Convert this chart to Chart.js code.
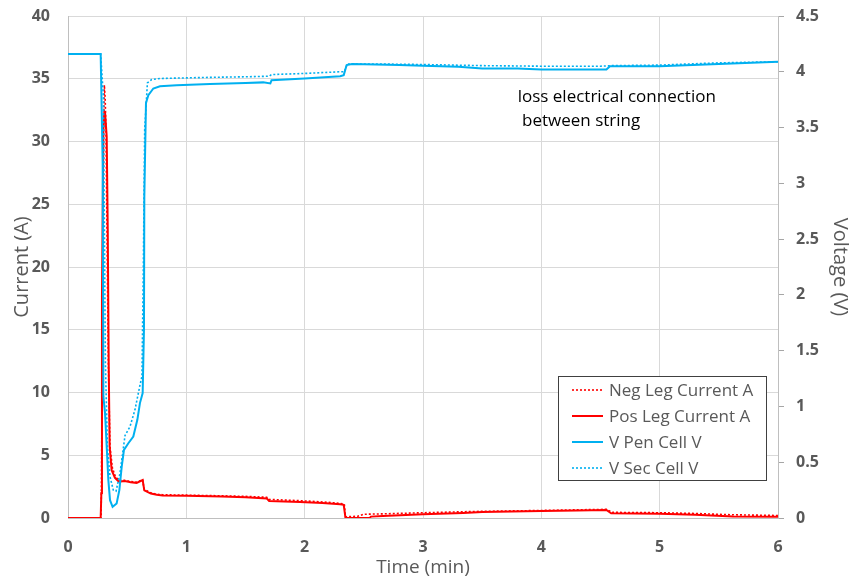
<!DOCTYPE html>
<html>
<head>
<meta charset="utf-8">
<title>Current and voltage vs time</title>
<script src="https://cdn.jsdelivr.net/npm/chart.js@4.4.1/dist/chart.umd.min.js"></script>
<style>
  html, body { margin: 0; padding: 0; background: #fff; }
  canvas { display: block; }
</style>
</head>
<body>
<canvas id="chart" width="852" height="579"></canvas>
<script>
// Neg leg current (A), dotted red
const negTime = [0, 0.28, 0.29, 0.3, 0.307, 0.314, 0.321, 0.332, 0.341, 0.355, 0.375, 0.4, 0.43, 0.48, 0.53, 0.58, 0.631, 0.638, 0.645, 0.7, 0.75, 0.8, 1.0, 1.3, 1.5, 1.68, 1.7, 1.96, 2.15, 2.3, 2.335, 2.345, 2.45, 2.5, 2.66, 3.0, 3.34, 3.5, 4.0, 4.3, 4.55, 4.6, 5.0, 5.3, 5.6, 6.0];
const negCurrent = [0, 0, 12, 30, 34.5, 33.5, 30.9, 20.3, 12.3, 5.7, 4.0, 3.3, 3.0, 3.0, 2.9, 2.85, 3.05, 2.6, 2.3, 2.0, 1.9, 1.85, 1.82, 1.77, 1.72, 1.65, 1.48, 1.38, 1.28, 1.17, 1.1, 0.1, 0.14, 0.3, 0.33, 0.42, 0.5, 0.53, 0.6, 0.65, 0.69, 0.45, 0.42, 0.36, 0.26, 0.2];

// Pos leg current (A), solid red
const posTime = [0, 0.276, 0.282, 0.287, 0.299, 0.307, 0.313, 0.327, 0.336, 0.344, 0.352, 0.369, 0.397, 0.43, 0.48, 0.53, 0.58, 0.631, 0.638, 0.645, 0.7, 0.75, 0.8, 1.0, 1.3, 1.5, 1.68, 1.7, 1.96, 2.15, 2.3, 2.33, 2.345, 2.55, 2.56, 2.66, 3.0, 3.34, 3.5, 4.0, 4.3, 4.55, 4.59, 5.0, 5.3, 5.62, 6.0];
const posCurrent = [0, 0, 2, 17.6, 30.9, 32.4, 32.3, 30.4, 22.9, 12.3, 5.7, 3.8, 3.2, 2.9, 2.95, 2.85, 2.8, 3.03, 2.6, 2.2, 1.95, 1.85, 1.8, 1.78, 1.72, 1.65, 1.55, 1.35, 1.28, 1.2, 1.1, 1.05, 0, 0, 0.11, 0.15, 0.3, 0.4, 0.47, 0.55, 0.6, 0.64, 0.37, 0.33, 0.25, 0.12, 0.1];

// V Pen cell (V), solid blue
const penTime = [0, 0.276, 0.293, 0.299, 0.313, 0.341, 0.355, 0.377, 0.411, 0.434, 0.454, 0.473, 0.51, 0.552, 0.586, 0.608, 0.631, 0.642, 0.645, 0.659, 0.679, 0.721, 0.777, 0.918, 1.2, 1.5, 1.65, 1.71, 1.72, 2.0, 2.3, 2.33, 2.355, 2.4, 2.6, 2.8, 3.0, 3.3, 3.5, 3.8, 4.0, 4.3, 4.55, 4.58, 5.0, 5.5, 6.0];
const penVolt = [4.16, 4.16, 3.18, 1.09, 0.94, 0.34, 0.16, 0.10, 0.13, 0.25, 0.46, 0.61, 0.67, 0.73, 0.88, 1.03, 1.12, 1.69, 2.88, 3.72, 3.79, 3.85, 3.87, 3.88, 3.89, 3.9, 3.905, 3.895, 3.925, 3.94, 3.96, 3.97, 4.06, 4.07, 4.065, 4.06, 4.055, 4.045, 4.03, 4.03, 4.02, 4.02, 4.02, 4.05, 4.05, 4.07, 4.09];

// V Sec cell (V), dotted blue
const secTime = [0, 0.276, 0.299, 0.316, 0.333, 0.355, 0.383, 0.406, 0.439, 0.482, 0.524, 0.566, 0.608, 0.625, 0.637, 0.648, 0.671, 0.707, 0.777, 1.2, 1.5, 1.7, 1.72, 2.0, 2.3, 2.335, 2.36, 2.6, 3.0, 3.5, 4.0, 4.5, 4.6, 5.0, 5.5, 6.0];
const secVolt = [4.16, 4.16, 3.78, 1.39, 0.64, 0.37, 0.25, 0.24, 0.40, 0.74, 0.82, 0.97, 1.19, 1.27, 2.28, 3.48, 3.90, 3.93, 3.94, 3.95, 3.955, 3.96, 3.975, 3.985, 4.0, 4.0, 4.07, 4.07, 4.065, 4.055, 4.05, 4.05, 4.055, 4.06, 4.08, 4.09];

const seriesLabels = ['Neg Leg Current A', 'Pos Leg Current A', 'V Pen Cell V', 'V Sec Cell V'];
const noteLines = ['loss electrical connection', ' between string'];

const RED = '#ff0000';
const BLUE = '#00b0f0';
const GREY_TEXT = '#595959';
const GRID = '#d9d9d9';
const FONT = "'Open Sans', 'DejaVu Sans', sans-serif";

function pairs(xs, ys) {
    return xs.map((x, i) => ({ x: x, y: ys[i] }));
}

// vertical axes: fixed width, and no extra top padding from tick labels
function fixWidth(width) {
    return (s) => {
        s.width = width;
        s.paddingTop = 0;
        s.paddingBottom = 0;
    };
}

// legend box with frame, drawn over the plot area
const boxedLegend = {
    id: 'boxedLegend',
    afterDatasetsDraw(chart) {
        const { ctx, chartArea } = chart;
        const w = 208, h = 104;
        const left = chartArea.right - 220;
        const top = chartArea.bottom - 142;
        ctx.save();
        ctx.fillStyle = '#fff';
        ctx.fillRect(left, top, w, h);
        ctx.strokeStyle = '#404040';
        ctx.lineWidth = 1;
        ctx.strokeRect(left + 0.5, top + 0.5, w, h);
        ctx.font = '17px ' + FONT;
        ctx.textBaseline = 'middle';
        ctx.fillStyle = GREY_TEXT;
        chart.data.datasets.forEach((ds, i) => {
            const y = top + 14 + i * 26;
            ctx.beginPath();
            ctx.setLineDash(ds.borderDash || []);
            ctx.strokeStyle = ds.borderColor;
            ctx.lineWidth = ds.borderWidth;
            ctx.moveTo(left + 14, y);
            ctx.lineTo(left + 45, y);
            ctx.stroke();
            ctx.setLineDash([]);
            ctx.fillText(ds.label, left + 51, y + 1);
        });
        ctx.restore();
    }
};

// text note in the upper right of the plot
const noteText = {
    id: 'noteText',
    afterDraw(chart) {
        const { ctx, scales } = chart;
        const x = scales.x.getPixelForValue(3.8);
        const y = scales.y.getPixelForValue(33.5);
        ctx.save();
        ctx.font = '17px ' + FONT;
        ctx.fillStyle = '#000';
        ctx.textBaseline = 'middle';
        noteLines.forEach((line, i) => ctx.fillText(line, x, y + i * 24));
        ctx.restore();
    }
};

const solidLine = { borderWidth: 2, pointRadius: 0, tension: 0, fill: false };
const dottedLine = { borderWidth: 1.6, borderDash: [2, 2], pointRadius: 0, tension: 0, fill: false };

new Chart(document.getElementById('chart').getContext('2d'), {
    type: 'line',
    data: {
        datasets: [
            { ...dottedLine, label: seriesLabels[0], data: pairs(negTime, negCurrent), borderColor: RED, yAxisID: 'y', order: 4 },
            { ...solidLine, label: seriesLabels[1], data: pairs(posTime, posCurrent), borderColor: RED, yAxisID: 'y', order: 3 },
            { ...solidLine, label: seriesLabels[2], data: pairs(penTime, penVolt), borderColor: BLUE, yAxisID: 'y1', order: 2 },
            { ...dottedLine, label: seriesLabels[3], data: pairs(secTime, secVolt), borderColor: BLUE, yAxisID: 'y1', order: 1 }
        ]
    },
    plugins: [boxedLegend, noteText],
    options: {
        responsive: false,
        animation: false,
        layout: { padding: { top: 16, left: 0, right: 0, bottom: 0 } },
        plugins: {
            legend: { display: false },
            tooltip: { enabled: false }
        },
        scales: {
            x: {
                type: 'linear',
                min: 0,
                max: 6,
                afterFit: (s) => { s.height = 61; },
                ticks: { stepSize: 1, color: GREY_TEXT, padding: 20, font: { family: FONT, size: 16, weight: 'bold' } },
                grid: { color: GRID, drawTicks: false },
                border: { color: '#bfbfbf' },
                title: { display: true, text: 'Time (min)', color: GREY_TEXT, padding: { top: 0, bottom: 0 }, font: { family: FONT, size: 19 } }
            },
            y: {
                position: 'left',
                min: 0,
                max: 40,
                afterFit: fixWidth(68),
                ticks: { stepSize: 5, color: GREY_TEXT, padding: 18, font: { family: FONT, size: 16, weight: 'bold' } },
                grid: { color: GRID, drawTicks: false },
                border: { color: '#bfbfbf' },
                title: { display: true, text: 'Current (A)', color: GREY_TEXT, padding: { top: 10, bottom: 0 }, font: { family: FONT, size: 20 } }
            },
            y1: {
                position: 'right',
                min: 0,
                max: 4.5,
                afterFit: fixWidth(74),
                ticks: {
                    stepSize: 0.5,
                    color: GREY_TEXT,
                    padding: 12,
                    font: { family: FONT, size: 16, weight: 'bold' },
                    callback: (v) => String(Number(v))
                },
                grid: { drawOnChartArea: false, color: '#a6a6a6', tickLength: 6 },
                border: { color: '#bfbfbf' },
                title: { display: true, text: 'Voltage (V)', color: GREY_TEXT, padding: { top: 0, bottom: 0 }, font: { family: FONT, size: 20 } }
            }
        }
    }
});
</script>
</body>
</html>
